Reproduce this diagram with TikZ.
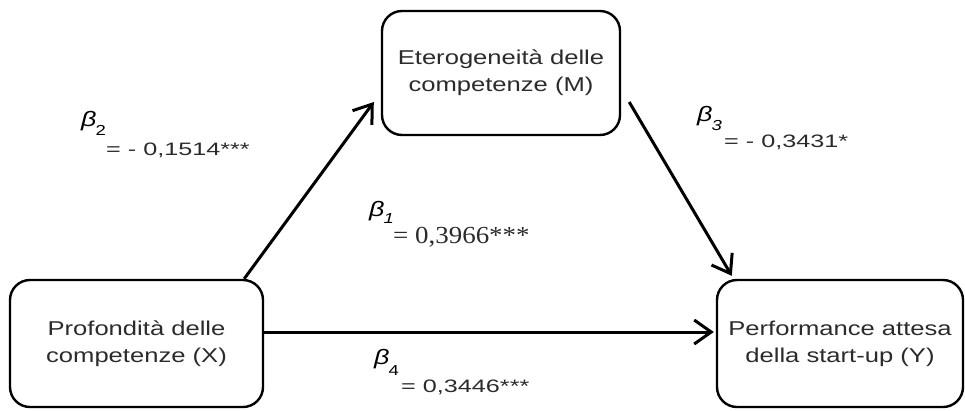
\documentclass[tikz,border=0pt]{standalone}
\usepackage{fontspec}
\setmainfont{Liberation Sans}[FakeStretch=1.28]
\newfontfamily\lblfont{Liberation Sans}[FakeStretch=1.4]
\newfontfamily\serfont{Liberation Serif}[FakeStretch=1.1]
\usetikzlibrary{arrows.meta}
\definecolor{txt}{HTML}{2B2B2B}
\newcommand\betasym[2]{{\fontsize{21}{21}\selectfont\itshape β}\kern-1pt\raisebox{#1}{\fontsize{14.5}{14.5}\selectfont #2}}
\begin{document}
\begin{tikzpicture}[x=1pt,y=-1pt,
  box/.style={draw=black, line width=2.4pt, rounded corners=20pt, inner sep=0pt,
    align=center, text=txt, font=\fontsize{20}{27}\selectfont},
  arr/.style={line width=3pt, -{Straight Barb[length=17pt,width=24pt,line width=3pt]}},
  lbl/.style={anchor=base west, inner sep=0pt, text=txt, font=\lblfont\fontsize{18}{18}\selectfont},
  bet/.style={anchor=base west, inner sep=0pt, text=black},
]
\useasboundingbox (0,0) rectangle (965,410);
\node[box, minimum width=238pt, minimum height=124pt] (M) at (501,73)
  {Eterogeneità delle\\competenze (M)};
\node[box, minimum width=253pt, minimum height=127pt] (X) at (136.5,343.5)
  {Profondità delle\\competenze (X)};
\node[box, minimum width=246pt, minimum height=127pt] (Y) at (840,343.5)
  {Performance attesa\\della start-up (Y)};

\draw[arr] ([xshift=-20pt]X.north east) -- ([xshift=-7pt,yshift=-29pt]M.west);
\draw[arr] ([xshift=8pt,yshift=-29pt]M.east) -- ([xshift=16pt,yshift=3pt]Y.north west);
\draw[arr] ([yshift=11.5pt]X.east) -- ([xshift=-2pt,yshift=11.5pt]Y.west);

\node[bet] (b2) at (81,126) {\betasym{-9pt}{2}};
\node[lbl] (l2) at (106,155) {= - 0,1514***};
\node[bet] (b3) at (697,121) {\betasym{-9pt}{\itshape 3}};
\node[lbl] (l3) at (724,147) {= - 0,3431*};
\node[bet] (b1) at (369,216) {\betasym{-7pt}{\itshape 1}};
\node[anchor=base west, inner sep=0pt, text=txt, font=\serfont\fontsize{24.5}{24.5}\selectfont] (l1) at (393,243) {= 0,3966***};
\node[bet] (b4) at (374,364) {\betasym{-11pt}{4}};
\node[lbl] (l4) at (401,392) {= 0,3446***};
\end{tikzpicture}
\end{document}
